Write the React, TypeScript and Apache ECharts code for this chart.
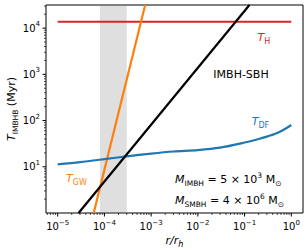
import React, { useEffect, useRef } from 'react';
import * as echarts from 'echarts';

// Axis ranges (log10 space: x -5.25..0.25, y 0..4.5)
const X_MIN = 5.623e-6;
const X_MAX = 1.778;
const Y_MIN = 1;
const Y_MAX = 31623;

// Hubble time T_H
const hubbleX = [1e-5, 1];
const hubbleY = [13800, 13800];

// Dynamical friction T_DF
const dfX = [1e-5, 3e-5, 1e-4, 3e-4, 1e-3, 3e-3, 1e-2, 3e-2, 1e-1, 0.2, 0.3, 0.5, 0.7, 1.0];
const dfY = [11.3, 12.6, 14.6, 16.8, 19.3, 21.4, 23.0, 26.0, 33.5, 40, 45, 54, 64, 80];

// Gravitational-wave time T_GW
const gwX = [5.9e-5, 7.45e-4];
const gwY = [1, 31623];

// IMBH-SBH line
const sbhX = [2.8e-5, 0.127];
const sbhY = [1, 31623];

// Shaded band
const bandX = [8e-5, 3e-4];

// Tick structure
const xDecades = [1e-6, 1e-5, 1e-4, 1e-3, 1e-2, 1e-1, 1];
const yDecades = [1, 10, 100, 1000, 10000];
const xMajorTicks = [1e-5, 1e-4, 1e-3, 1e-2, 1e-1, 1];
const yMajorTicks = [1, 10, 100, 1000, 10000];
const xLabelExponents = [-5, -4, -3, -2, -1, 0];
const yLabelExponents = [1, 2, 3, 4];
const minorMultipliers = [2, 3, 4, 5, 6, 7, 8, 9];

const FONT = 'DejaVu Sans';
const RED = '#d62728';
const BLUE = '#1f77b4';
const ORANGE = '#ff7f0e';

const pairs = (xs: number[], ys: number[]) => xs.map((x, i) => [x, ys[i]]);

export default function App() {
  const ref = useRef<HTMLDivElement>(null);
  useEffect(() => {
    const chart = echarts.init(ref.current!, null, { renderer: 'svg' });

    const makeLabel = (allowed: number[]) => (v: number) => {
      const l = Math.log10(v);
      const e = Math.round(l);
      if (Math.abs(l - e) > 0.01 || allowed.indexOf(e) < 0) return '';
      const s = e < 0 ? '\u2212' + Math.abs(e) : String(e);
      return `{b|10}{s|${s}}`;
    };
    const tickRich: any = {
      b: { fontFamily: FONT, fontSize: 10, lineHeight: 15, color: '#000' },
      s: { fontFamily: FONT, fontSize: 7, lineHeight: 7, verticalAlign: 'top', color: '#000' },
    };

    const xMinor: number[] = [];
    xDecades.forEach((d) => minorMultipliers.forEach((m) => {
      const v = d * m;
      if (v >= X_MIN && v <= X_MAX) xMinor.push(v);
    }));
    const yMinor: number[] = [];
    yDecades.forEach((d) => minorMultipliers.forEach((m) => {
      const v = d * m;
      if (v >= Y_MIN && v <= Y_MAX) yMinor.push(v);
    }));

    const xTickData = [
      ...xMajorTicks.map((v) => [v, 10, 3.5, 1]),
      ...xMinor.map((v) => [v, 10, 2, 0.7]),
    ];
    const yTickData = [
      ...yMajorTicks.filter((v) => v > Y_MIN).map((v) => [1e-3, v, 3.5, 1]),
      ...yMinor.map((v) => [1e-3, v, 2, 0.7]),
    ];

    const subRich = {
      i: { fontFamily: FONT, fontSize: 11, fontStyle: 'italic', lineHeight: 16 },
      sub: { fontFamily: FONT, fontSize: 8, lineHeight: 8, verticalAlign: 'bottom' },
    };
    const massRich = {
      i: { fontFamily: FONT, fontSize: 11, fontStyle: 'italic', lineHeight: 16 },
      n: { fontFamily: FONT, fontSize: 11, lineHeight: 16 },
      sub: { fontFamily: FONT, fontSize: 7.5, lineHeight: 8, verticalAlign: 'bottom' },
      sup: { fontFamily: FONT, fontSize: 7.5, lineHeight: 8, verticalAlign: 'top' },
    };

    const option: any = {
      animation: false,
      grid: {
        left: 46, right: 5, top: 5, bottom: 37,
        show: true, borderColor: '#000', borderWidth: 1,
        containLabel: false, outerBoundsMode: 'none',
      },
      xAxis: {
        type: 'log', logBase: 10, min: X_MIN, max: X_MAX,
        axisLine: { show: false },
        axisTick: { show: false },
        splitLine: { show: false },
        axisLabel: { formatter: makeLabel(xLabelExponents), rich: tickRich, margin: 6 },
        name: '{i|r/r}{sub|h}',
        nameLocation: 'middle',
        nameMoveOverlap: false,
        nameGap: 19,
        nameTextStyle: {
          rich: {
            i: { fontFamily: FONT, fontSize: 11, fontStyle: 'italic', lineHeight: 16, color: '#000' },
            sub: { fontFamily: FONT, fontSize: 8, fontStyle: 'italic', lineHeight: 8, verticalAlign: 'bottom', color: '#000' },
          },
        },
      },
      yAxis: {
        type: 'log', logBase: 10, min: Y_MIN, max: Y_MAX,
        axisLine: { show: false },
        axisTick: { show: false },
        splitLine: { show: false },
        axisLabel: { formatter: makeLabel(yLabelExponents), rich: tickRich, margin: 6 },
        name: '{i|T}{sub|IMBHB}{n| (Myr)}',
        nameLocation: 'middle',
        nameMoveOverlap: false,
        nameRotate: 90,
        nameGap: 27,
        nameTextStyle: {
          rich: {
            i: { fontFamily: FONT, fontSize: 11, fontStyle: 'italic', lineHeight: 16, color: '#000' },
            sub: { fontFamily: FONT, fontSize: 7.5, lineHeight: 8, verticalAlign: 'bottom', color: '#000' },
            n: { fontFamily: FONT, fontSize: 11, lineHeight: 16, color: '#000' },
          },
        },
      },
      series: [
        {
          type: 'line', data: [[bandX[0], 10]], symbol: 'none', silent: true,
          lineStyle: { opacity: 0 }, z: 1,
          markArea: {
            silent: true,
            itemStyle: { color: 'rgba(128,128,128,0.25)', borderWidth: 0 },
            data: [[{ xAxis: bandX[0] }, { xAxis: bandX[1] }]],
          },
        },
        {
          type: 'line', data: pairs(hubbleX, hubbleY), symbol: 'none', silent: true, z: 3,
          lineStyle: { color: RED, width: 2 },
        },
        {
          type: 'line', data: pairs(gwX, gwY), symbol: 'none', silent: true, z: 3,
          lineStyle: { color: ORANGE, width: 2.2 },
        },
        {
          type: 'line', data: pairs(dfX, dfY), symbol: 'none', silent: true, z: 3, smooth: 0.3,
          lineStyle: { color: BLUE, width: 2.2 },
        },
        {
          type: 'line', data: pairs(sbhX, sbhY), symbol: 'none', silent: true, z: 3,
          lineStyle: { color: '#000', width: 2.2 },
        },
        {
          type: 'custom', data: xTickData, silent: true, z: 5,
          renderItem: (params: any, api: any) => {
            const cs = params.coordSys;
            const px = api.coord([api.value(0), api.value(1)])[0];
            const yb = cs.y + cs.height;
            return {
              type: 'line',
              shape: { x1: px, y1: yb, x2: px, y2: yb + api.value(2) },
              style: { stroke: '#000', lineWidth: api.value(3) },
            };
          },
        },
        {
          type: 'custom', data: yTickData, silent: true, z: 5,
          renderItem: (params: any, api: any) => {
            const cs = params.coordSys;
            const py = api.coord([api.value(0), api.value(1)])[1];
            const xl = cs.x;
            return {
              type: 'line',
              shape: { x1: xl - api.value(2), y1: py, x2: xl, y2: py },
              style: { stroke: '#000', lineWidth: api.value(3) },
            };
          },
        },
      ],
      graphic: [
        {
          type: 'text', x: 257.5, y: 37.5, silent: true,
          style: { text: '{i|T}{sub|H}', fill: RED, verticalAlign: 'middle', rich: subRich },
        },
        {
          type: 'text', x: 241, y: 74.5, silent: true,
          style: {
            text: 'IMBH-SBH', fill: '#000', align: 'center', verticalAlign: 'middle',
            font: `11px "${FONT}"`,
          },
        },
        {
          type: 'text', x: 251.7, y: 121, silent: true,
          style: { text: '{i|T}{sub|DF}', fill: BLUE, verticalAlign: 'middle', rich: subRich },
        },
        {
          type: 'text', x: 66, y: 178.3, silent: true,
          style: { text: '{i|T}{sub|GW}', fill: ORANGE, verticalAlign: 'middle', rich: subRich },
        },
        {
          type: 'text', x: 175, y: 179.8, silent: true,
          style: {
            text: '{i|M}{sub|IMBH}{n| = 5 \u00d7 10}{sup|3}{n| M}{sub|\u2299}',
            fill: '#000', verticalAlign: 'middle', rich: massRich,
          },
        },
        {
          type: 'text', x: 175, y: 200, silent: true,
          style: {
            text: '{i|M}{sub|SMBH}{n| = 4 \u00d7 10}{sup|6}{n| M}{sub|\u2299}',
            fill: '#000', verticalAlign: 'middle', rich: massRich,
          },
        },
      ],
    };

    chart.setOption(option);
    return () => chart.dispose();
  }, []);

  return (
    <div
      ref={ref}
      style={{ position: 'absolute', left: 0, top: 0, width: 308, height: 250, background: '#fff' }}
    />
  );
}
